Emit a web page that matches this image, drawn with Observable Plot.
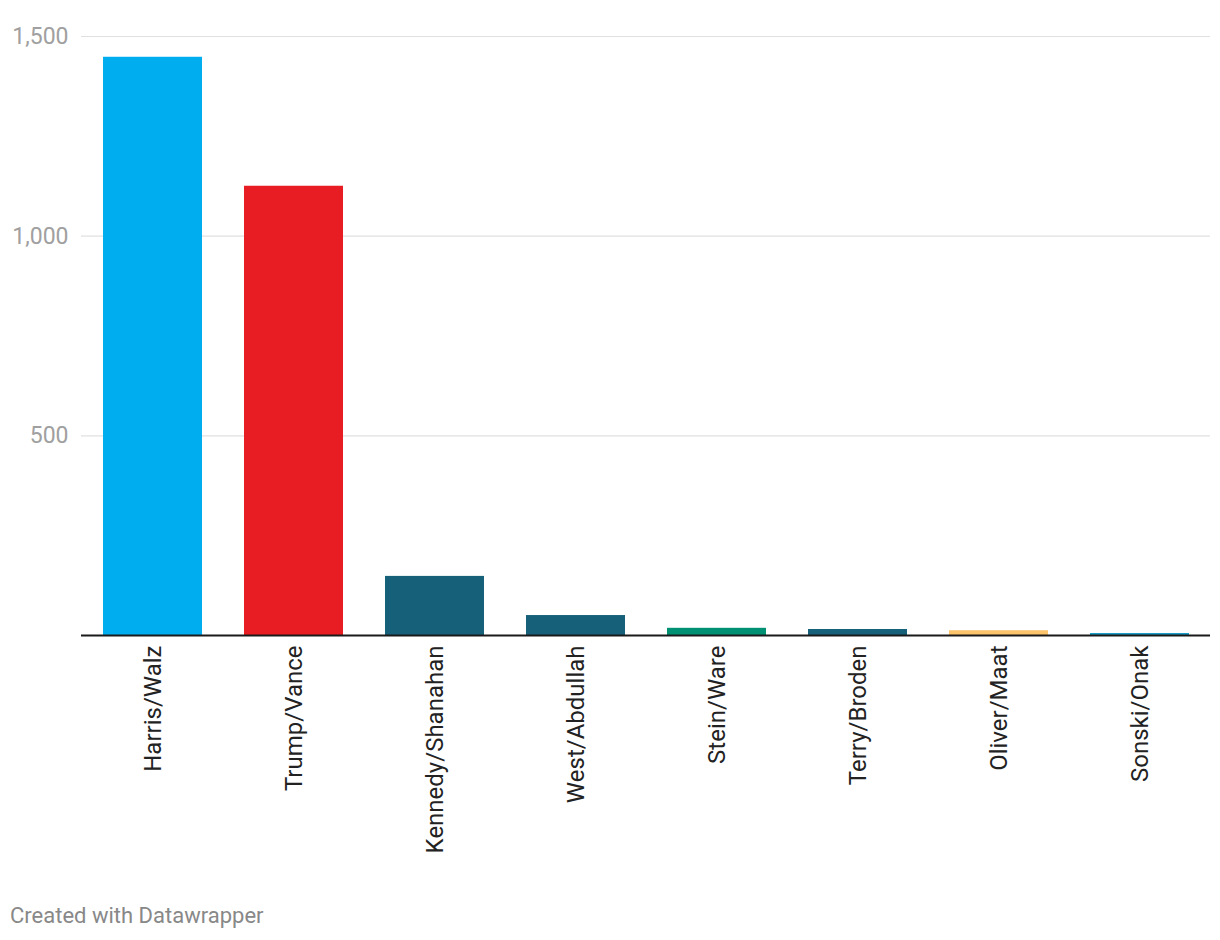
<!DOCTYPE html>
<html>
<head>
<meta charset="utf-8">
<script src="https://cdn.jsdelivr.net/npm/d3@7"></script>
<script src="https://cdn.jsdelivr.net/npm/@observablehq/plot@0.6"></script>
<style>
  body { margin: 0; background: #fff; font-family: Roboto, sans-serif; }
  #wrap { position: relative; width: 1220px; height: 940px; }
  #footer { position: absolute; left: 10px; top: 903px; font-size: 22px; color: #888; font-family: Roboto, sans-serif; }
  g[aria-label="y-axis tick label"] text { font-size: 23px; }
  g[aria-label="x-axis tick label"] text { font-size: 24px; }
</style>
</head>
<body>
<div id="wrap">
  <div id="chart"></div>
  <div id="footer">Created with Datawrapper</div>
</div>
<script>
const tickets = ["Harris/Walz", "Trump/Vance", "Kennedy/Shanahan", "West/Abdullah", "Stein/Ware", "Terry/Broden", "Oliver/Maat", "Sonski/Onak"];
const votes = [1448, 1125, 148, 50, 18, 15, 12, 5];
const colors = ["#00aef0", "#e81c23", "#17607a", "#17607a", "#009073", "#17607a", "#fcc56c", "#1a9dc7"];
const yTicks = [500, 1000, 1500];

const data = tickets.map((t, i) => ({ticket: t, votes: votes[i], color: colors[i]}));

const chart = Plot.plot({
  width: 1220,
  height: 880,
  marginTop: 36,
  marginBottom: 245,
  marginLeft: 81,
  marginRight: 10,
  style: { fontFamily: "Roboto, sans-serif", background: "#fff" },
  x: { domain: tickets, paddingInner: 0.3, paddingOuter: 0.15, label: null },
  y: { domain: [0, 1500], label: null },
  marks: [
    Plot.gridY(yTicks, { stroke: "#e0e0e0", strokeOpacity: 1, strokeWidth: 1.2 }),
    Plot.axisY(yTicks, { tickSize: 0, tickPadding: 13, tickFormat: d3.format(","), fill: "#a0a0a0", label: null }),
    Plot.barY(data, { x: "ticket", y: "votes", fill: "color" }),
    Plot.ruleY([0], { stroke: "#1a1a1a", strokeWidth: 2 }),
    Plot.axisX({ tickSize: 0, tickPadding: 10, tickRotate: -90, fill: "#222", label: null })
  ]
});
document.getElementById("chart").appendChild(chart);
</script>
</body>
</html>
